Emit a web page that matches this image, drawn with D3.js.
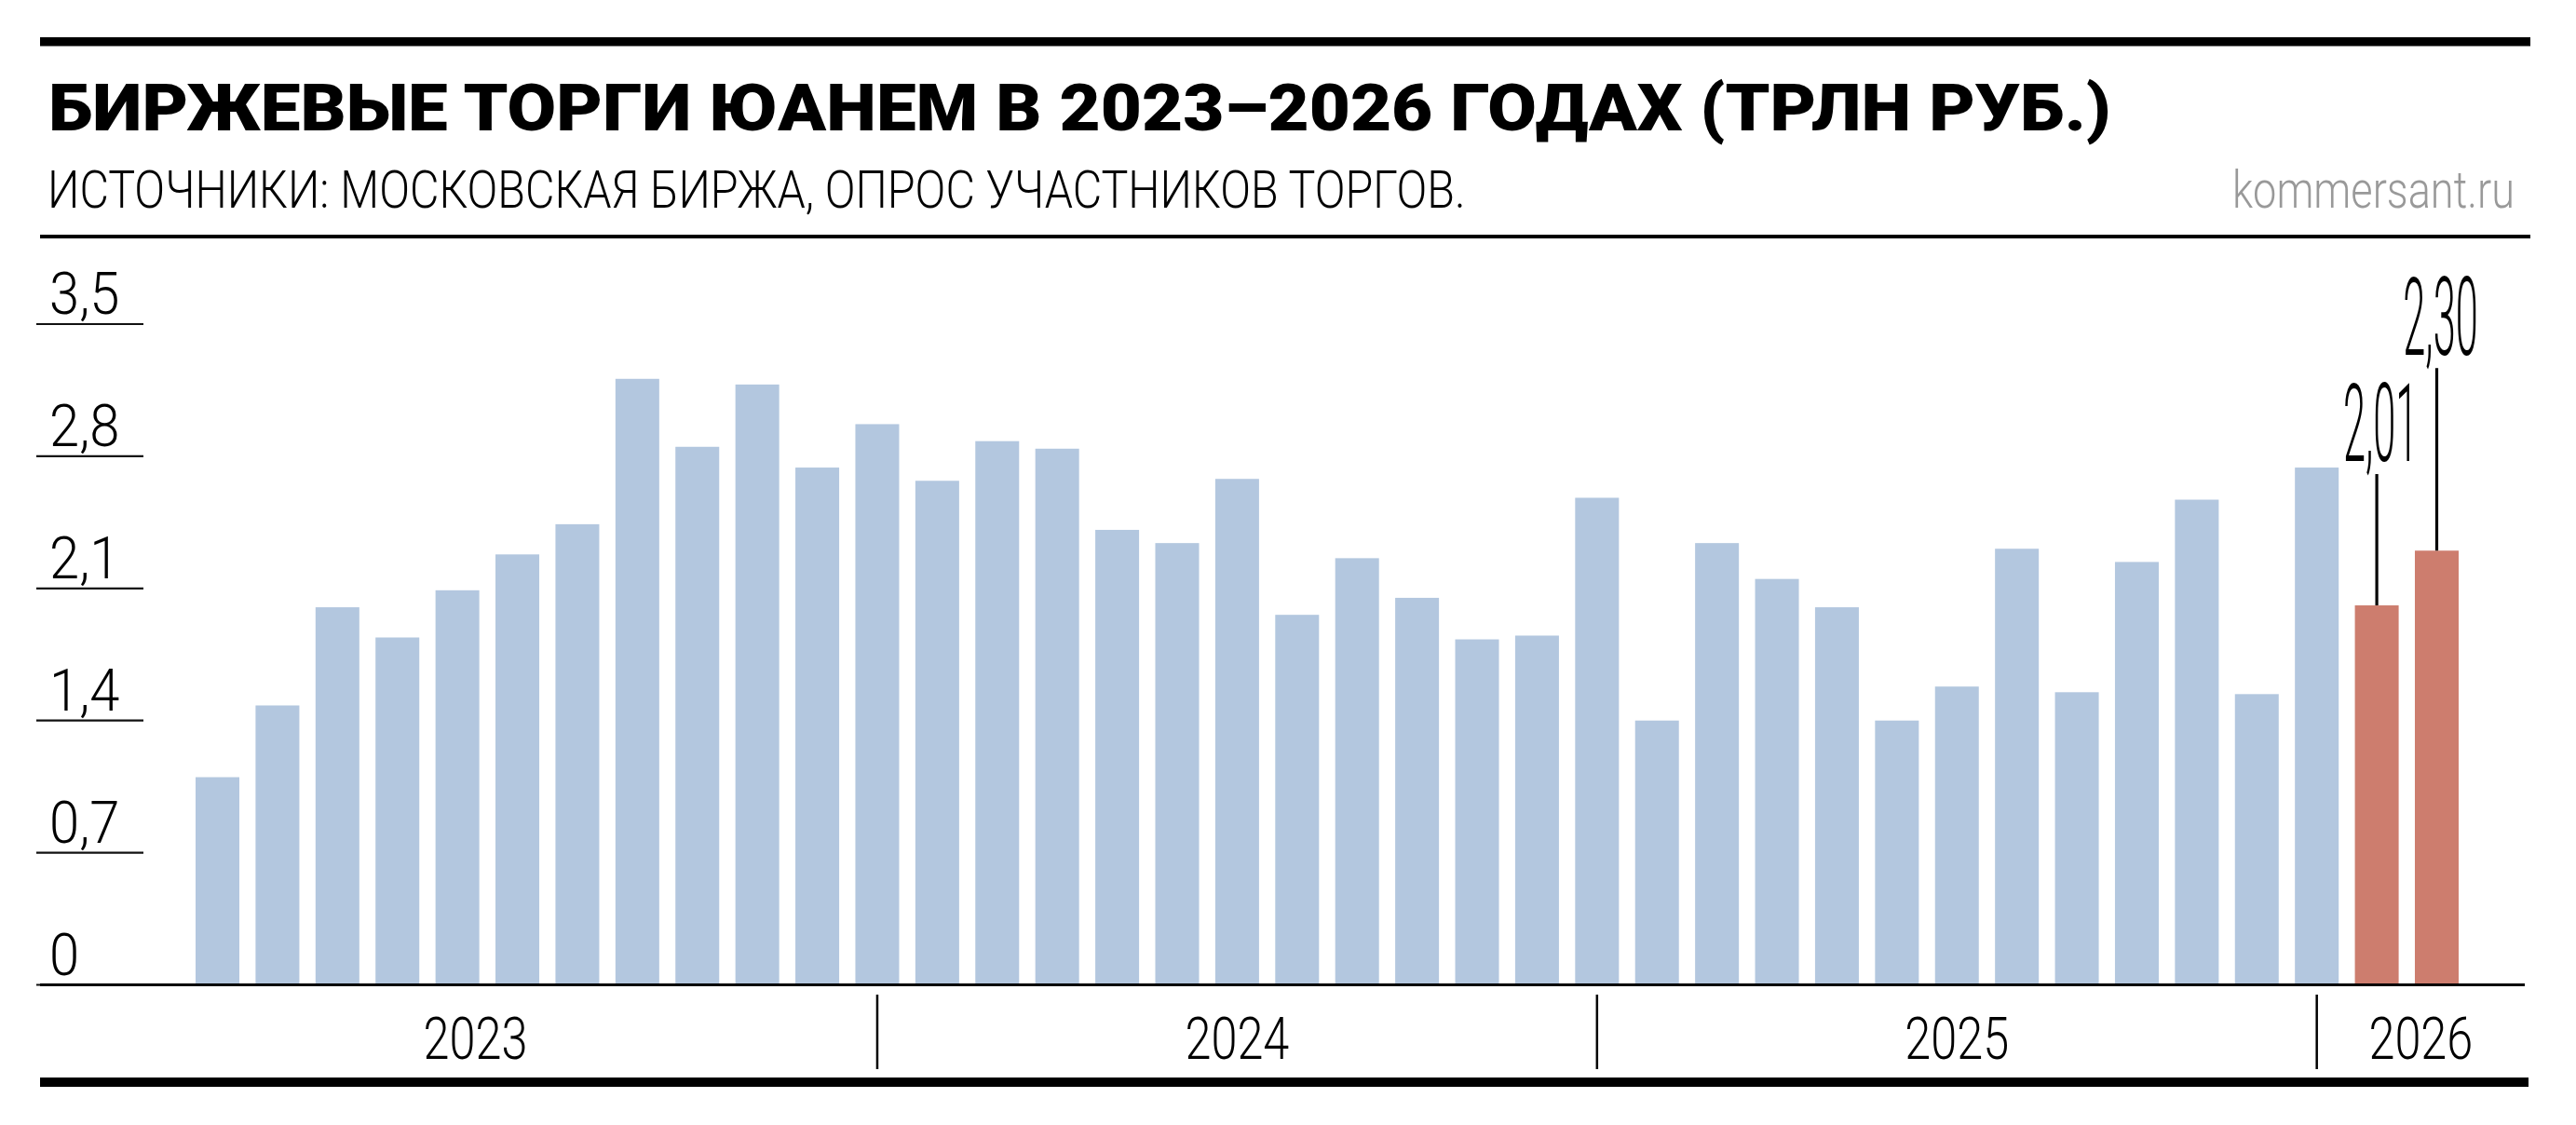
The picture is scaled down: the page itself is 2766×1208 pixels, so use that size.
<!DOCTYPE html>
<html>
<head>
<meta charset="utf-8">
<script src="https://cdn.jsdelivr.net/npm/d3@7"></script>
<style>
  html, body { margin: 0; padding: 0; background: #fff; }
  svg { display: block; }
</style>
</head>
<body>
<script>
// ---------- DATA ----------
const months = [
  "2023-01","2023-02","2023-03","2023-04","2023-05","2023-06","2023-07","2023-08","2023-09","2023-10","2023-11","2023-12",
  "2024-01","2024-02","2024-03","2024-04","2024-05","2024-06","2024-07","2024-08","2024-09","2024-10","2024-11","2024-12",
  "2025-01","2025-02","2025-03","2025-04","2025-05","2025-06","2025-07","2025-08","2025-09","2025-10","2025-11","2025-12",
  "2026-01","2026-02"
];
const values = [
  1.10, 1.48, 2.00, 1.84, 2.09, 2.28, 2.44, 3.21, 2.85, 3.18, 2.74, 2.97,
  2.67, 2.88, 2.84, 2.41, 2.34, 2.68, 1.96, 2.26, 2.05, 1.83, 1.85, 2.58,
  1.40, 2.34, 2.15, 2.00, 1.40, 1.58, 2.31, 1.55, 2.24, 2.57, 1.54, 2.74,
  2.01, 2.30
];
const years = ["2023", "2024", "2025", "2026"];
const highlightYear = "2026";
const valueLabels = { "2026-01": "2,01", "2026-02": "2,30" };
const yTicks = [0, 0.7, 1.4, 2.1, 2.8, 3.5];
const yTickLabels = ["0", "0,7", "1,4", "2,1", "2,8", "3,5"];

const titleText = "БИРЖЕВЫЕ ТОРГИ ЮАНЕМ В 2023–2026 ГОДАХ (ТРЛН РУБ.)";
const subtitleText = "ИСТОЧНИКИ: МОСКОВСКАЯ БИРЖА, ОПРОС УЧАСТНИКОВ ТОРГОВ.";
const sourceText = "kommersant.ru";

// ---------- LAYOUT ----------
const W = 2766, H = 1208;
const FONT = "Roboto, 'Liberation Sans', Arial, sans-serif";
const BLUE = "#b3c7df", RED = "#cd7d6e";

const svg = d3.select("body").append("svg")
  .attr("width", W).attr("height", H)
  .attr("viewBox", `0 0 ${W} ${H}`);
svg.append("rect").attr("width", W).attr("height", H).attr("fill", "#fff");

// rules
svg.append("rect").attr("x", 43).attr("y", 40).attr("width", 2674).attr("height", 9.5).attr("fill", "#000");
svg.append("rect").attr("x", 43).attr("y", 252).attr("width", 2674).attr("height", 4).attr("fill", "#000");
svg.append("rect").attr("x", 43).attr("y", 1157).attr("width", 2672).attr("height", 10).attr("fill", "#000");

// fit a text horizontally to a target width by scaling (keeps real text)
function fitText(str, x0, y0, width, attrs) {
  const t = svg.append("text").text(str);
  Object.entries(attrs).forEach(([k, v]) => t.attr(k, v));
  const w = t.node().getComputedTextLength();
  t.attr("transform", `translate(${x0},${y0}) scale(${width / w},1)`);
  return t;
}

fitText(titleText, 52, 140, 2215, {
  "font-family": FONT, "font-weight": 900, "font-size": 70, "fill": "#000"
});
fitText(subtitleText, 51, 223, 1523, {
  "font-family": FONT, "font-weight": 300, "font-size": 56, "fill": "#000"
});
fitText(sourceText, 2397, 223, 303, {
  "font-family": FONT, "font-weight": 300, "font-size": 56, "fill": "#999"
});

// scales
const x = d3.scaleBand().domain(months).range([210, 2640]).paddingInner(0.27).paddingOuter(0);
const y = d3.scaleLinear().domain([0, 3.5]).range([1057.5, 348]);
const bw = x.bandwidth();

// y grid ticks + labels
const gy = svg.append("g");
gy.selectAll("line.tick").data(yTicks).join("line")
  .attr("class", "tick")
  .attr("x1", 39).attr("x2", 154)
  .attr("y1", d => y(d)).attr("y2", d => y(d))
  .attr("stroke", "#111").attr("stroke-width", 2.2);
gy.selectAll("text.tl").data(yTicks).join("text")
  .attr("class", "tl")
  .attr("transform", d => `translate(53,${y(d) - 11}) scale(0.92,1)`)
  .attr("font-family", FONT).attr("font-weight", 300).attr("font-size", 63)
  .attr("fill", "#000")
  .text((d, i) => yTickLabels[i]);

// bars
const data = months.map((m, i) => ({ m, v: values[i], year: m.slice(0, 4) }));
svg.append("g").selectAll("rect").data(data).join("rect")
  .attr("x", d => x(d.m))
  .attr("y", d => y(d.v))
  .attr("width", bw)
  .attr("height", d => y(0) - y(d.v))
  .attr("fill", d => d.year === highlightYear ? RED : BLUE);

// baseline
svg.append("line")
  .attr("x1", 43).attr("x2", 2711)
  .attr("y1", y(0)).attr("y2", y(0))
  .attr("stroke", "#000").attr("stroke-width", 3);

// value annotations (leader lengths above bar tops)
const leaderLen = { "2026-01": 141, "2026-02": 196 };
const ann = data.filter(d => valueLabels[d.m]);
const ga = svg.append("g");
ann.forEach(d => {
  const cx = x(d.m) + bw / 2;
  const top = y(d.v) - leaderLen[d.m];
  ga.append("line")
    .attr("x1", cx).attr("x2", cx)
    .attr("y1", top).attr("y2", y(d.v))
    .attr("stroke", "#000").attr("stroke-width", 3.2);
  ga.append("text")
    .attr("transform", `translate(${cx + 4},${top - 14}) scale(0.37,1)`)
    .attr("text-anchor", "middle")
    .attr("font-family", FONT).attr("font-weight", 300).attr("font-size", 117)
    .attr("fill", "#000")
    .text(valueLabels[d.m]);
});

// year dividers and labels
const lastOfYear = years.map(yr => months.filter(m => m.startsWith(yr)).slice(-1)[0]);
const dividers = lastOfYear.slice(0, -1).map(m => x(m) + bw / 2);
const gx = svg.append("g");
gx.selectAll("line").data(dividers).join("line")
  .attr("x1", d => d).attr("x2", d => d)
  .attr("y1", 1068).attr("y2", 1148)
  .attr("stroke", "#000").attr("stroke-width", 2.5);
const bounds = [79, ...dividers, 2711];
gx.selectAll("text").data(years).join("text")
  .attr("transform", (d, i) => `translate(${(bounds[i] + bounds[i + 1]) / 2},1137) scale(0.8,1)`)
  .attr("text-anchor", "middle")
  .attr("font-family", FONT).attr("font-weight", 300).attr("font-size", 63)
  .attr("fill", "#000")
  .text(d => d);
</script>
</body>
</html>
